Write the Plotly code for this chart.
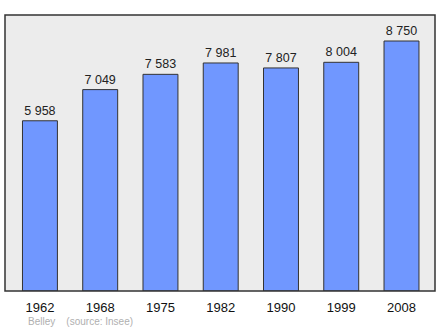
import plotly.graph_objects as go

years = ["1962", "1968", "1975", "1982", "1990", "1999", "2008"]
population = [5958, 7049, 7583, 7981, 7807, 8004, 8750]
source_text = "Belley    (source: Insee)"

fig = go.Figure(go.Bar(
    x=years, y=population,
    width=0.58,
    marker=dict(color="#7097ff", line=dict(color="#333333", width=1)),
    texttemplate="%{y:,}", textposition="outside",
    textfont=dict(family="Liberation Sans, Arial", size=12.5, color="#222222"),
    cliponaxis=False,
))

fig.update_layout(
    width=440, height=329,
    margin=dict(l=5, r=5, t=15, b=38),
    paper_bgcolor="white", plot_bgcolor="#ececec",
    separators=". ",
    showlegend=False,
    font=dict(family="Liberation Sans, Arial"),
    xaxis=dict(range=[-0.58, 6.556], showgrid=False, ticks="outside", ticklen=4,
               tickcolor="rgba(0,0,0,0)", tickfont=dict(size=13, color="#111111"),
               showline=False, zeroline=False),
    yaxis=dict(range=[0, 9660], showgrid=False, showticklabels=False, zeroline=False, showline=False),
    shapes=[dict(type="rect", xref="paper", yref="paper", x0=0, y0=0, x1=1, y1=1,
                 line=dict(color="#333333", width=1.5))],
    annotations=[dict(text=source_text, xref="paper", yref="paper", x=(26-5)/430, y=-0.112,
                      xanchor="left", yanchor="middle", showarrow=False,
                      font=dict(size=10, color="#b0b0b0"))],
)

fig.write_html("out.html")
